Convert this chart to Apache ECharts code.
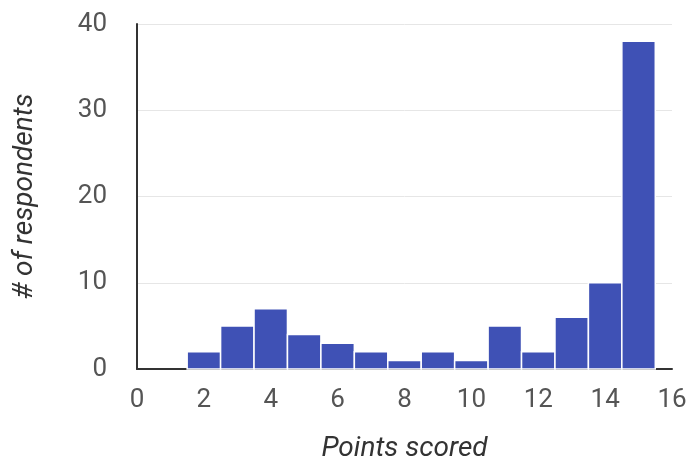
<!DOCTYPE html>
<html>
<head>
<meta charset="utf-8">
<script src="https://cdn.jsdelivr.net/npm/echarts@6/dist/echarts.min.js"></script>
<style>
html,body{margin:0;padding:0;background:#fff;}
#chart{width:691px;height:464px;}
</style>
</head>
<body>
<div id="chart"></div>
<script>
const points = [2, 3, 4, 5, 6, 7, 8, 9, 10, 11, 12, 13, 14, 15];
const counts = [2, 5, 7, 4, 3, 2, 1, 2, 1, 5, 2, 6, 10, 38];
const xTicks = [0, 2, 4, 6, 8, 10, 12, 14, 16];
const yTicks = [0, 10, 20, 30, 40];

const chart = echarts.init(document.getElementById('chart'));
const data = points.map((p, i) => [p, counts[i]]);
const font = 'Roboto, "Noto Sans", sans-serif';

chart.setOption({
  animation: false,
  grid: { left: 137, right: 19, top: 24, bottom: 95, containLabel: false, outerBoundsMode: 'none' },
  xAxis: {
    type: 'value',
    min: xTicks[0], max: xTicks[xTicks.length - 1], interval: 2,
    name: 'Points scored',
    nameLocation: 'middle',
    nameGap: 66,
    nameTextStyle: { fontFamily: font, fontSize: 28, fontStyle: 'italic', color: '#333' },
    axisLine: { show: true, lineStyle: { color: '#333', width: 2 } },
    axisTick: { show: false },
    splitLine: { show: false },
    axisLabel: { fontFamily: font, fontSize: 26, color: '#555', margin: 18 }
  },
  yAxis: {
    type: 'value',
    min: yTicks[0], max: yTicks[yTicks.length - 1], interval: 10,
    name: '# of respondents',
    nameLocation: 'middle',
    nameGap: 98,
    nameTextStyle: { fontFamily: font, fontSize: 28, fontStyle: 'italic', color: '#333' },
    axisLine: { show: true, lineStyle: { color: '#333', width: 2 } },
    axisTick: { show: false },
    splitLine: { show: true, lineStyle: { color: '#e6e6e6', width: 1 } },
    axisLabel: { fontFamily: font, fontSize: 26, color: '#555', margin: 30 }
  },
  series: [{
    type: 'custom',
    data: data,
    encode: { x: 0, y: 1 },
    z: 1,
    renderItem: function (params, api) {
      const x = api.value(0), y = api.value(1);
      const p1 = api.coord([x - 0.5, y]);
      const p2 = api.coord([x + 0.5, 0]);
      return {
        type: 'rect',
        shape: { x: p1[0], y: p1[1], width: p2[0] - p1[0], height: p2[1] - p1[1] },
        style: { fill: '#3f51b5', stroke: '#fff', lineWidth: 1.5 }
      };
    }
  }]
});
</script>
</body>
</html>
